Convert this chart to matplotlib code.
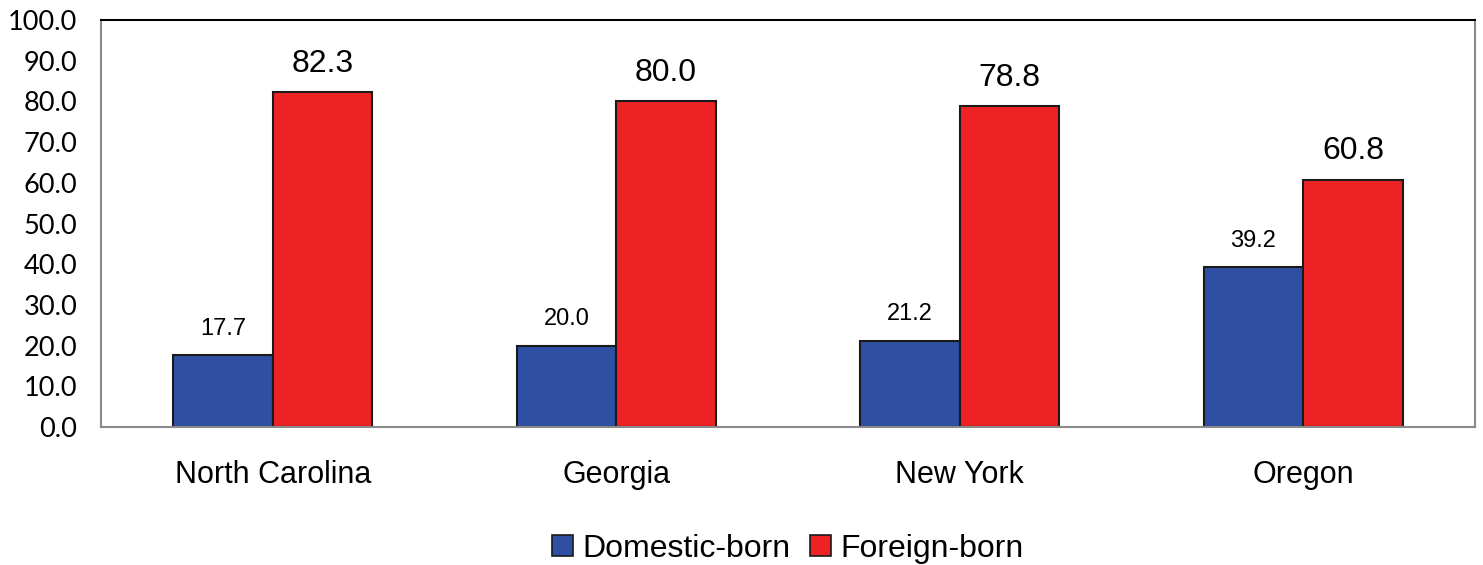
import numpy as np
from matplotlib import pyplot as plt
from matplotlib.patches import Patch

states = ["North Carolina", "Georgia", "New York", "Oregon"]
domestic = [17.7, 20.0, 21.2, 39.2]
foreign = [82.3, 80.0, 78.8, 60.8]
series_names = ["Domestic-born", "Foreign-born"]
y_ticks = [0, 10, 20, 30, 40, 50, 60, 70, 80, 90, 100]

BLUE = "#2E4FA2"
RED = "#EE2224"
EDGE = "#1a1a1a"
SPINE = "#8a8a8a"

plt.rcParams["font.family"] = ["Liberation Sans", "DejaVu Sans"]

fig = plt.figure(figsize=(14.83, 5.65), dpi=100)
ax = fig.add_axes([101 / 1483, 1 - 427 / 565, 1374 / 1483, 407 / 565])

x = np.arange(len(states))
width = 0.29
ax.bar(x - width / 2, domestic, width, color=BLUE, edgecolor=EDGE, linewidth=1.5)
ax.bar(x + width / 2, foreign, width, color=RED, edgecolor=EDGE, linewidth=1.5)

# value labels above each bar
for xi, d, f in zip(x, domestic, foreign):
    ax.annotate("%.1f" % d, (xi - width / 2, d), xytext=(0, 11),
                textcoords="offset points", ha="center", va="bottom",
                fontsize=17)
    ax.annotate("%.1f" % f, (xi + width / 2, f), xytext=(0, 9.5),
                textcoords="offset points", ha="center", va="bottom",
                fontsize=23)

ax.set_xlim(-0.5, len(states) - 0.5)
ax.set_ylim(0, 100)
ax.set_yticks(y_ticks)
ax.set_yticklabels(["%.1f" % t for t in y_ticks], family="Lato", fontsize=19.5)
ax.set_xticks(x)
ax.set_xticklabels(states, fontsize=22)
ax.tick_params(axis="y", length=0, pad=17)
ax.tick_params(axis="x", length=0, pad=24)

for side in ["left", "right", "bottom"]:
    ax.spines[side].set_color(SPINE)
    ax.spines[side].set_linewidth(1.5)
ax.spines["top"].set_color("black")
ax.spines["top"].set_linewidth(1.5)

handles = [Patch(facecolor=BLUE, edgecolor=EDGE, linewidth=1.2),
           Patch(facecolor=RED, edgecolor=EDGE, linewidth=1.2)]
fig.legend(handles, series_names, loc="center",
           bbox_to_anchor=(788 / 1483, 1 - 549 / 565),
           ncol=2, frameon=False, fontsize=23, handlelength=0.65, handleheight=0.65,
           handletextpad=0.3, columnspacing=0.6, borderpad=0)

fig.savefig("out.png", dpi=100)
